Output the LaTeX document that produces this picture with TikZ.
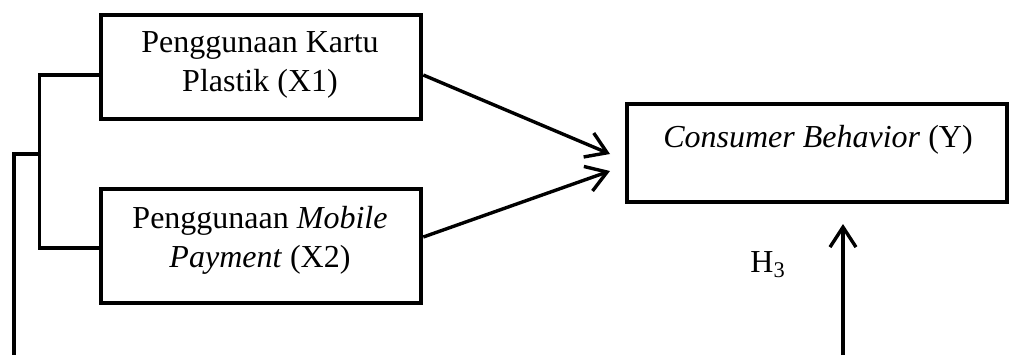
\documentclass[tikz,border=0pt]{standalone}
\usepackage{fontspec}
\setmainfont{Liberation Serif}
\usetikzlibrary{arrows.meta,calc}
\begin{document}
\begin{tikzpicture}[x=0.5pt,y=-0.5pt,
  box/.style={draw, line width=2.3pt, inner sep=0pt},
  lbl/.style={font=\fontsize{16}{19.5}\selectfont, align=center, inner sep=0pt},
  conn/.style={line width=1.7pt},
  arr/.style={conn, -{Straight Barb[length=10pt,width=13pt,line width=1.7pt]}}
]
\useasboundingbox (0,0) rectangle (1013,355);
\node[box, minimum width=160pt, minimum height=52pt] (b1) at (261,67) {};
\node[box, minimum width=160pt, minimum height=57pt] (b2) at (261,246) {};
\node[box, minimum width=190pt, minimum height=49pt] (b3) at (817,153) {};
\node[lbl] (t1) at (260,65) {Penggunaan Kartu\\Plastik (X1)};
\node[lbl] (t2) at (260,240) {Penggunaan \textit{Mobile}\\\textit{Payment} (X2)};
\node[lbl, anchor=base] (t3) at (818,147) {\textit{Consumer Behavior} (Y)};
\node[lbl, anchor=base west] (h3) at (750,272) {H\textsubscript{3}};
\coordinate (e1) at (610,154);
\coordinate (e2) at (610,171);
\draw[arr] ($(b1.east)+(0,8)$) -- (e1);
\draw[arr] ($(b2.east)+(0,-9)$) -- (e2);
\coordinate (vb) at (843,355);
\coordinate (vt) at (843,224);
\draw[arr] (vb) -- (vt);
\draw[conn] ($(b1.west)+(0,8)$) -- ++(-59,0) |- ($(b2.west)+(0,2)$);
\coordinate (m) at (41,154);
\coordinate (bl) at (14,355);
\draw[conn] (m) -| (bl);
\end{tikzpicture}
\end{document}
